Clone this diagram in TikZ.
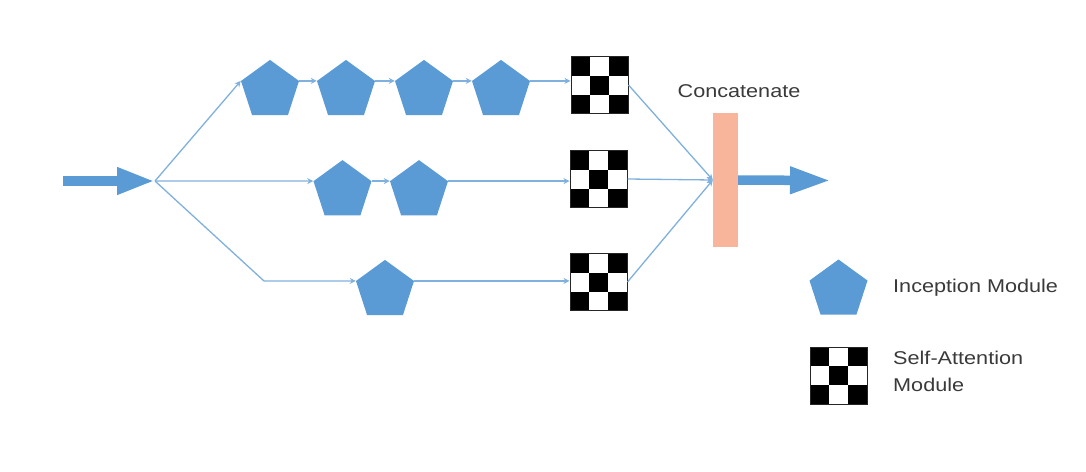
\documentclass[tikz,border=0pt]{standalone}
\usepackage{fontspec}
\setmainfont{Liberation Sans}[FakeStretch=1.17]
\usetikzlibrary{shapes.geometric,arrows.meta,calc}
\definecolor{pblue}{HTML}{5B9BD5}
\definecolor{lblue}{HTML}{7FB0DE}
\definecolor{salmon}{HTML}{F8B59B}
\definecolor{txt}{HTML}{3A3A3A}
\tikzset{
  pent/.style={regular polygon, regular polygon sides=5, minimum size=61pt, inner sep=0pt, fill=pblue, draw=none},
  checker/.style={rectangle, draw=black!85, line width=1pt, minimum size=57pt, inner sep=0pt, fill=white,
    path picture={
      \foreach \i/\j in {0/0,2/0,1/1,0/2,2/2}
        \fill[black] ($(path picture bounding box.south west)+(\i*19pt,\j*19pt)$) rectangle +(19pt,19pt);
    }},
  conn/.style={draw=lblue, line width=1.3pt, -{Stealth[length=6pt,width=6pt]}},
  fat/.style={draw=pblue, line width=9.5pt, -{Triangle[length=38pt,width=25pt]}},
  lbl/.style={font=\fontsize{18.5}{27}\selectfont, text=txt, inner sep=0pt}
}
\begin{document}
\begin{tikzpicture}[x=1pt,y=-1pt]
\useasboundingbox (0,0) rectangle (1086,471);
% input
\coordinate (in) at (63,181);
\coordinate (br) at (155,181);
\coordinate (bend) at (264,281);
% top row
\node[pent] (t1) at (270,90.4) {};
\node[pent] (t2) at (346,90.4) {};
\node[pent] (t3) at (424,90.4) {};
\node[pent] (t4) at (501,90.4) {};
% middle row
\node[pent] (m1) at (342.5,190.6) {};
\node[pent] (m2) at (419,190.6) {};
% bottom row
\node[pent] (b1) at (385,290.4) {};
% checkers
\node[checker] (c1) at (599.5,85) {};
\node[checker] (c2) at (598.5,179) {};
\node[checker] (c3) at (598.5,282) {};
% concat
\node[rectangle, fill=salmon, minimum width=25pt, minimum height=134pt, inner sep=0pt] (cat) at (725.5,180) {};
\node[lbl] (catl) at (739,91.5) {Concatenate};
\coordinate (out) at (831,180.5);
% arrows
\draw[fat] (in) -- (br);
\draw[conn] (br) -- (t1.corner 2);
\draw[conn] (t1.corner 5) -- (t2.corner 2);
\draw[conn] (t2.corner 5) -- (t3.corner 2);
\draw[conn] (t3.corner 5) -- (t4.corner 2);
\draw[conn] (t4.corner 5) -- (t4.corner 5 -| c1.west);
\draw[conn] (br) -- (m1.corner 2);
\draw[conn] (m1.corner 5) -- (m2.corner 2);
\draw[conn] (m2.corner 5) -- (m2.corner 5 -| c2.west);
\draw[conn] (br) -- (bend) -- (b1.corner 2);
\draw[conn] (b1.corner 5) -- (b1.corner 5 -| c3.west);
\draw[conn] (c1.east) -- (cat.west);
\draw[conn] (c2.east) -- (cat.west);
\draw[conn] (c3.east) -- (cat.west);
\draw[fat, -{Triangle[length=41pt,width=25pt]}] (cat.east) -- (out);
% legend
\node[pent] (lp) at (838.5,290) {};
\node[lbl, anchor=west] (lpt) at (893,288) {Inception Module};
\node[checker] (lc) at (838.5,375.5) {};
\node[lbl, anchor=west, align=left] (lct) at (893,371.5) {Self-Attention\\Module};
\end{tikzpicture}
\end{document}
